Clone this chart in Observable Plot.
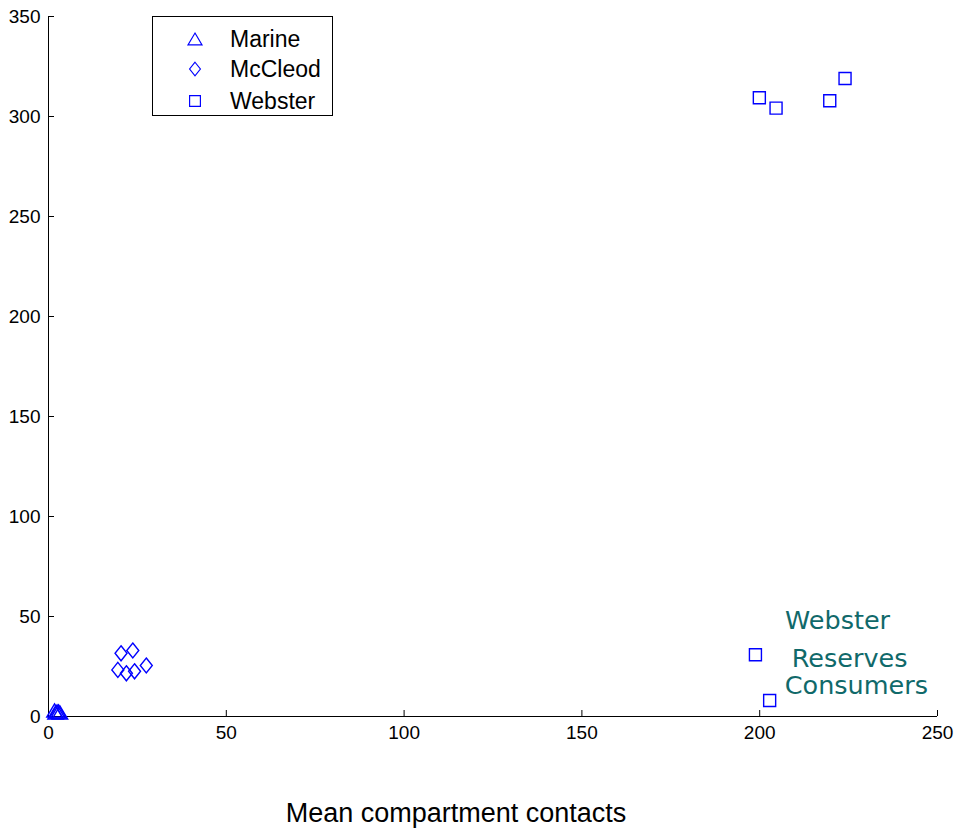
<!DOCTYPE html>
<html>
<head>
<meta charset="utf-8">
<script src="https://cdn.jsdelivr.net/npm/d3@7"></script>
<script src="https://cdn.jsdelivr.net/npm/@observablehq/plot@0.6"></script>
<style>
  html, body { margin: 0; padding: 0; background: #fff; }
  #wrap { position: relative; width: 957px; height: 833px; }
  #legend { position: absolute; left: 152px; top: 16px; width: 179px; height: 98px;
            border: 1px solid #000; background: #fff;
            font-family: "Liberation Sans", Arial, sans-serif; font-size: 23px; color: #000; }
  .row { position: absolute; left: 0; height: 30px; display: flex; align-items: center; }
  .row svg { position: absolute; left: 31px; }
  .row span { position: absolute; left: 77px; white-space: nowrap; line-height: 30px; top: 0; }
</style>
</head>
<body>
<div id="wrap"></div>
<script>
// ---- data ----
const series = ["Marine", "McCleod", "Webster"];
const marineX = [1.7, 2.4, 3.2, 2.0, 2.8];
const marineY = [3.0, 2.5, 2.0, 2.0, 2.5];
const mccleodX = [20.4, 23.7, 19.5, 21.9, 24.2, 27.5];
const mccleodY = [31.6, 33.0, 23.3, 21.6, 22.6, 25.5];
const websterX = [199.9, 204.6, 219.7, 224.0, 198.8, 202.8];
const websterY = [309.4, 304.2, 307.9, 319.0, 30.9, 8.0];
const xTicks = [0, 50, 100, 150, 200, 250];
const yTicks = [0, 50, 100, 150, 200, 250, 300, 350];
const noteText = ["Webster", "Reserves", "Consumers"];
const noteX = [221.9, 225.3, 227.2];
const noteY = [48, 29, 15.5];
const xLabel = "Mean compartment contacts";

// ---- marker shapes (MATLAB-like) ----
const triangleSym = { draw(c, size) { const s = Math.sqrt(size / Math.PI); const w = s * 1.3, h = s * 1.1;
  c.moveTo(0, -h); c.lineTo(w, h); c.lineTo(-w, h); c.closePath(); } };
const diamondSym = { draw(c, size) { const s = Math.sqrt(size / Math.PI); const w = s, h = s * 1.25;
  c.moveTo(0, -h); c.lineTo(w, 0); c.lineTo(0, h); c.lineTo(-w, 0); c.closePath(); } };
const squareSym = { draw(c, size) { const s = Math.sqrt(size / Math.PI); const w = s;
  c.moveTo(-w, -w); c.lineTo(w, -w); c.lineTo(w, w); c.lineTo(-w, w); c.closePath(); } };
const symbols = [triangleSym, diamondSym, squareSym];

const pts = [];
[[marineX, marineY], [mccleodX, mccleodY], [websterX, websterY]].forEach(([xs, ys], i) => {
  xs.forEach((x, j) => pts.push({ series: series[i], x, y: ys[j] }));
});
const notes = noteText.map((t, i) => ({ text: t, x: noteX[i], y: noteY[i] }));

const blue = "#0000ff";
const plot = Plot.plot({
  width: 957, height: 833,
  marginLeft: 48, marginRight: 20, marginTop: 16, marginBottom: 117,
  style: { fontFamily: "'Liberation Sans', Arial, sans-serif", fontSize: "19px", color: "#000", background: "#fff" },
  x: { domain: [0, 250] },
  y: { domain: [0, 350] },
  symbol: { domain: series, range: symbols },
  marks: [
    Plot.axisX(xTicks, { tickSize: -6, tickPadding: 15, label: null, fontSize: 19 }),
    Plot.axisY(yTicks, { tickSize: -6, tickPadding: 14, label: null, fontSize: 19 }),
    Plot.ruleX([0], { stroke: "#000", strokeWidth: 1 }),
    Plot.ruleY([0], { stroke: "#000", strokeWidth: 1 }),
    Plot.dot(pts, { x: "x", y: "y", symbol: "series", r: 6, fill: "none", stroke: blue, strokeWidth: 1.4 }),
    Plot.text(notes, { x: "x", y: "y", text: "text", fill: "#10696a", fontSize: 25.5,
      fontFamily: "'DejaVu Sans', Verdana, sans-serif", textAnchor: "middle" }),
    Plot.text([xLabel], { frameAnchor: "bottom", dx: -37, dy: 105, text: d => d, fontSize: 27, fill: "#000",
      fontFamily: "'Liberation Sans', Arial, sans-serif" })
  ]
});
const wrap = document.getElementById("wrap");
wrap.appendChild(plot);

// ---- legend ----
const legend = document.createElement("div");
legend.id = "legend";
const rowTops = [7, 37, 69];
series.forEach((name, i) => {
  const row = document.createElement("div");
  row.className = "row";
  row.style.top = rowTops[i] + "px";
  const path = d3.symbol(symbols[i], Math.PI * 36)();
  row.innerHTML = `<svg width="22" height="30" viewBox="-11 -15 22 30"><path d="${path}" fill="none" stroke="${blue}" stroke-width="1.3" transform="scale(0.9)"/></svg><span>${name}</span>`;
  legend.appendChild(row);
});
wrap.appendChild(legend);
</script>
</body>
</html>
